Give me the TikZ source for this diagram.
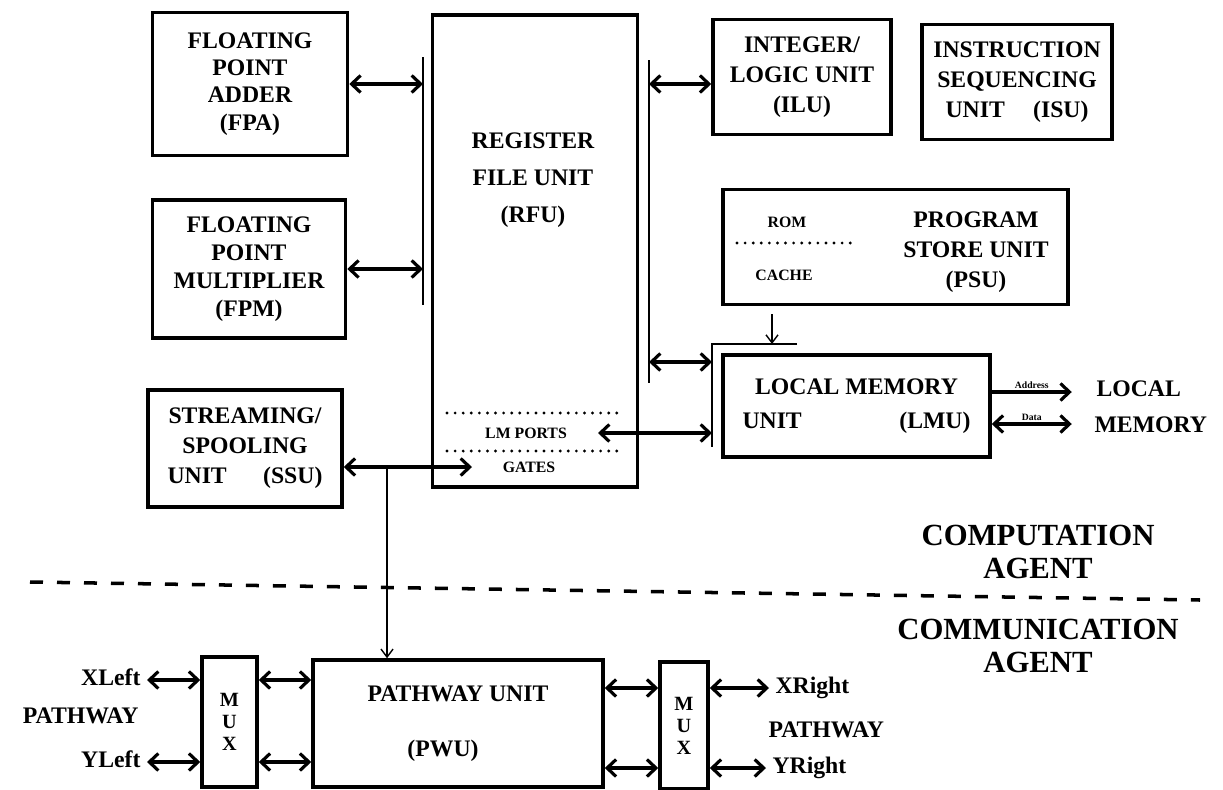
\documentclass[tikz,border=0pt]{standalone}
\usepackage{fontspec}
\setmainfont{Liberation Serif}
\usetikzlibrary{arrows.meta,positioning}

\begin{document}
\begin{tikzpicture}[
  x=0.2mm, y=-0.2mm,
  font=\bfseries\fontsize{13.5}{17}\selectfont,
  unit/.style={draw, line width=2pt, align=center, inner sep=2pt},
  small/.style={font=\bfseries\fontsize{9}{10}\selectfont, inner sep=1pt},
  tag/.style={font=\bfseries\fontsize{5.5}{6}\selectfont, inner sep=1pt},
  agent/.style={align=center, inner sep=0pt,
    font=\bfseries\fontsize{17.5}{19}\selectfont},
  side/.style={inner sep=3.5pt, text height=1.6ex, text depth=0.25ex},
  mux/.style={draw, line width=2pt, align=center, inner sep=1pt,
    font=\bfseries\fontsize{11.5}{12.5}\selectfont},
  bus/.style={line width=0.8pt},
  dotsep/.style={line width=1.8pt, line cap=round, dash pattern=on 0pt off 4.6pt},
  divider/.style={line width=2pt, dash pattern=on 0.26cm off 0.28cm},
  darr/.style={{Straight Barb[length=1.8mm,width=3.4mm]}-{Straight Barb[length=1.8mm,width=3.4mm]}, line width=1.8pt},
  sarr/.style={-{Straight Barb[length=1.8mm,width=3.4mm]}, line width=1.8pt},
  tarr/.style={-{Straight Barb[length=1.6mm,width=2.4mm]}, line width=0.8pt}
]
\useasboundingbox (0,0) rectangle (1223,789);

\node[unit, minimum width=3.9cm, minimum height=2.86cm,
  font=\bfseries\fontsize{13.5}{15.5}\selectfont] (fpa) at (250,84)
  {FLOATING\\POINT\\ADDER\\(FPA)};
\node[unit, minimum width=3.86cm, minimum height=2.76cm,
  font=\bfseries\fontsize{13.5}{16}\selectfont] (fpm) at (249,269)
  {FLOATING\\POINT\\MULTIPLIER\\(FPM)};
\node[unit, minimum width=4.1cm, minimum height=9.44cm] (rfu) at (535,251) {};
\node[align=center, font=\bfseries\fontsize{13.5}{21}\selectfont] (rfutxt) at (533,180)
  {REGISTER\\FILE UNIT\\(RFU)};
\draw[dotsep] (447,413) -- (623,413);
\draw[dotsep] (447,451) -- (623,451);
\node[small] (lmports) at (526,433) {LM PORTS};
\node[small] (gates) at (529,467) {GATES};

\coordinate (lbtop) at (423,57);
\coordinate (lbbot) at (423,305);
\coordinate (rbtop) at (649,60);
\coordinate (rbbot) at (649,383);
\draw[bus] (lbtop) -- (lbbot);
\draw[bus] (rbtop) -- (rbbot);
\draw[darr] (fpa.east) -- (fpa.east -| lbtop);
\draw[darr] (fpm.east) -- (fpm.east -| lbtop);

\node[unit, minimum width=3.56cm, minimum height=2.3cm] (ilu) at (802,77)
  {INTEGER/\\LOGIC UNIT\\(ILU)};
\node[unit, minimum width=3.8cm, minimum height=2.3cm] (isu) at (1017,82)
  {INSTRUCTION\\SEQUENCING\\\makebox[2.86cm]{UNIT\hfill(ISU)}};
\coordinate (iluin) at ([yshift=-1.4mm]ilu.west);
\draw[darr] (iluin -| rbtop) -- (iluin);

\node[unit, minimum width=6.9cm, minimum height=2.3cm] (psu) at (895.5,247) {};
\node[align=center] (psutxt) at (976,252) {PROGRAM\\STORE UNIT\\(PSU)};
\node[small] (rom) at (787,222) {ROM};
\draw[dotsep] (737,243) -- (857,243);
\node[small] (cache) at (784,275) {CACHE};

\node[unit, minimum width=5.34cm, minimum height=2.04cm,
  font=\bfseries\fontsize{13.5}{19}\selectfont] (lmu) at (856.5,406)
  {LOCAL MEMORY\\\makebox[4.56cm]{UNIT\hfill(LMU)}};
\coordinate (lbk) at (712,344);
\coordinate (lbkbot) at (712,447);
\coordinate (lbkend) at (797,344);
\draw[bus] (lbkend) -- (lbk) -- (lbkbot);
\coordinate (psuout) at (772,314);
\draw[tarr] (psuout) -- (psuout |- lbk);
\coordinate (lmuin) at (712,362);
\draw[darr] (lmuin -| rbtop) -- (lmuin);
\coordinate (lmpin) at (598,433);
\draw[darr] (lmpin) -- (lmpin -| lbk);

\draw[sarr] ([yshift=2.8mm]lmu.east) -- ++(80,0) node[midway, above, tag] {Address};
\draw[darr] ([yshift=-3.6mm]lmu.east) -- ++(80,0) node[midway, above, tag] {Data};
\node[side, anchor=west] (lmem1) at (1090,391) {LOCAL};
\node[side, anchor=west] (lmem2) at (1088,427) {MEMORY};

\node[unit, minimum width=3.88cm, minimum height=2.34cm] (ssu) at (245,448.5)
  {STREAMING/\\SPOOLING\\\makebox[3.1cm]{UNIT\hfill(SSU)}};
\coordinate (gatesin) at (472,467);
\draw[darr] (ssu.east |- gatesin) -- (gatesin);

\draw[divider] (30,582) -- (1200,600);
\node[agent] (comp) at (1038,552) {COMPUTATION\\AGENT};
\node[agent] (comm) at (1038,646) {COMMUNICATION\\AGENT};

\node[unit, minimum width=5.8cm, minimum height=2.54cm] (pwu) at (458,723.5)
  {PATHWAY UNIT\\[5mm](PWU)\kern0.6cm};
\coordinate (tap) at (387,467);
\draw[tarr] (tap) -- (tap |- pwu.north);

\node[mux, minimum width=1.1cm, minimum height=2.6cm] (lmux) at (229.5,722) {M\\U\\X};
\node[mux, minimum width=0.96cm, minimum height=2.54cm] (rmux) at (684,725.5) {M\\U\\X};

\node[side, anchor=east] (xl) at (147,680) {XLeft};
\node[side, anchor=east] (lpath) at (145,718) {PATHWAY};
\node[side, anchor=east] (yl) at (147,762) {YLeft};
\node[side, anchor=west] (xr) at (769,688) {XRight};
\node[side, anchor=west] (rpath) at (762,732) {PATHWAY};
\node[side, anchor=west] (yr) at (766,768) {YRight};

\draw[darr] (xl.east) -- (xl -| lmux.west);
\draw[darr] (yl.east) -- (yl -| lmux.west);
\draw[darr] (lmux.east |- xl) -- (pwu.west |- xl);
\draw[darr] (lmux.east |- yl) -- (pwu.west |- yl);
\draw[darr] (pwu.east |- xr) -- (rmux.west |- xr);
\draw[darr] (pwu.east |- yr) -- (rmux.west |- yr);
\draw[darr] (rmux.east |- xr) -- (xr.west);
\draw[darr] (rmux.east |- yr) -- (yr.west);
\end{tikzpicture}
\end{document}
